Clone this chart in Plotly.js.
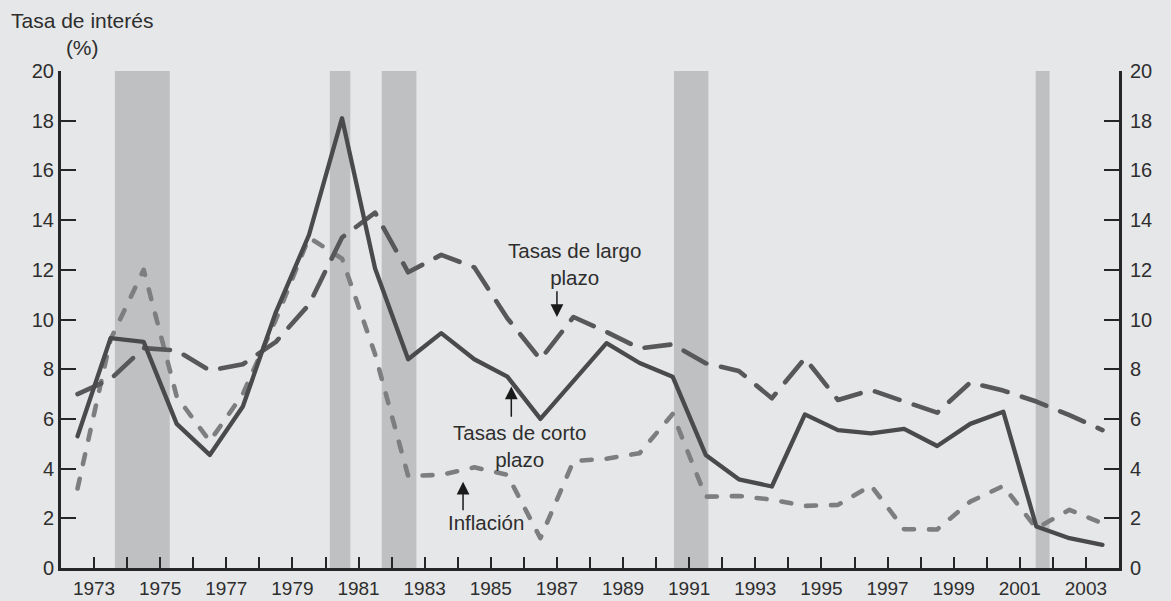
<!DOCTYPE html>
<html>
<head>
<meta charset="utf-8">
<script src="https://cdn.plot.ly/plotly-3.0.1.min.js"></script>
<style>
  html, body { margin: 0; padding: 0; background: #e6e7e8; }
  #chart { width: 1171px; height: 601px; }
  .scatterlayer path.js-line { stroke-linecap: round; stroke-linejoin: round; }
</style>
</head>
<body>
<div id="chart"></div>
<script>
// ---- Data ----
const years = [1972.5, 1973.5, 1974.5, 1975.5, 1976.5, 1977.5, 1978.5, 1979.5,
  1980.5, 1981.5, 1982.5, 1983.5, 1984.5, 1985.5, 1986.5, 1987.5,
  1988.5, 1989.5, 1990.5, 1991.5, 1992.5, 1993.5, 1994.5, 1995.5,
  1996.5, 1997.5, 1998.5, 1999.5, 2000.5, 2001.5, 2002.5, 2003.5];

const tasasCorto = [5.3, 9.25, 9.1, 5.8, 4.55, 6.5, 10.3, 13.4,
  18.1, 12.05, 8.4, 9.45, 8.4, 7.7, 6.0, 7.55,
  9.05, 8.25, 7.7, 4.55, 3.57, 3.28, 6.18, 5.55,
  5.42, 5.6, 4.91, 5.8, 6.29, 1.67, 1.2, 0.93];

const tasasLargo = [7.0, 7.6, 8.85, 8.75, 7.95, 8.2, 9.1, 10.6,
  13.3, 14.3, 11.9, 12.6, 12.1, 10.05, 8.4, 10.1,
  9.5, 8.84, 9.0, 8.24, 7.93, 6.83, 8.44, 6.76,
  7.16, 6.72, 6.25, 7.46, 7.14, 6.7, 6.15, 5.55];

const inflacion = [3.2, 9.2, 12.0, 6.9, 5.1, 7.0, 10.0, 13.3,
  12.45, 8.6, 3.7, 3.75, 4.05, 3.75, 1.2, 4.3,
  4.4, 4.62, 6.2, 2.87, 2.9, 2.75, 2.5, 2.54,
  3.32, 1.56, 1.55, 2.67, 3.3, 1.6, 2.34, 1.8];

// recession bands (start, end) in years
const recesionInicio = [1973.63, 1980.13, 1981.70, 1990.54, 2001.48];
const recesionFin    = [1975.29, 1980.75, 1982.75, 1991.58, 2001.90];

// axis ticks
const xTickYears = [1973, 1974, 1975, 1976, 1977, 1978, 1979, 1980, 1981, 1982,
  1983, 1984, 1985, 1986, 1987, 1988, 1989, 1990, 1991, 1992,
  1993, 1994, 1995, 1996, 1997, 1998, 1999, 2000, 2001, 2002, 2003];
const xTickLabels = ["1973", "", "1975", "", "1977", "", "1979", "", "1981", "",
  "1983", "", "1985", "", "1987", "", "1989", "", "1991", "",
  "1993", "", "1995", "", "1997", "", "1999", "", "2001", "", "2003"];
const yTicks = [0, 2, 4, 6, 8, 10, 12, 14, 16, 18, 20];

// ---- Styling ----
const FONT = '"Liberation Sans", Arial, Helvetica, sans-serif';
const TXT = '#2e2e2e';
const AX = '#262626';

const traces = [
  { x: years, y: inflacion, type: 'scatter', mode: 'lines', name: 'Inflación',
    line: { color: '#7d7e80', width: 4.6, dash: '10px,15px' }, hoverinfo: 'skip' },
  { x: years, y: tasasLargo, type: 'scatter', mode: 'lines', name: 'Tasas de largo plazo',
    line: { color: '#58585a', width: 4.6, dash: '26px,15px' }, hoverinfo: 'skip' },
  { x: years, y: tasasCorto, type: 'scatter', mode: 'lines', name: 'Tasas de corto plazo',
    line: { color: '#4a4a4c', width: 4.3 }, hoverinfo: 'skip' },
  { x: [years[0]], y: [0], yaxis: 'y2', type: 'scatter', mode: 'markers',
    marker: { opacity: 0 }, showlegend: false, hoverinfo: 'skip' }
];

const shapes = recesionInicio.map((s, i) => ({
  type: 'rect', xref: 'x', yref: 'y', x0: s, x1: recesionFin[i], y0: 0, y1: 20,
  fillcolor: '#bfc0c2', line: { width: 0 }, layer: 'below'
}));

const yCommon = {
  range: [0, 20], tickmode: 'array', tickvals: yTicks, ticktext: yTicks.map(String),
  ticks: 'inside', ticklen: 15, tickwidth: 2, tickcolor: AX,
  showline: true, linewidth: 3, linecolor: AX,
  showgrid: false, zeroline: false, fixedrange: true,
  tickfont: { family: FONT, size: 20, color: TXT }
};

const annFont = { family: FONT, size: 20.5, color: TXT };
const arrowStyle = { text: '', showarrow: true, arrowhead: 2, arrowsize: 1.7, arrowwidth: 1.5,
  arrowcolor: '#1a1a1a', standoff: 0, startstandoff: 0,
  xref: 'x', yref: 'y', axref: 'x', ayref: 'y' };
const annotations = [
  { xref: 'paper', yref: 'paper', x: 0.0198, y: 1.0745, xanchor: 'center', yanchor: 'middle',
    text: 'Tasa de interés<br>(%)', showarrow: false, font: { family: FONT, size: 21, color: TXT } },
  { x: 1987.52, y: 12.22, xref: 'x', yref: 'y', text: 'Tasas de largo<br>plazo',
    showarrow: false, font: annFont, xanchor: 'center', yanchor: 'middle' },
  { x: 1985.87, y: 4.91, xref: 'x', yref: 'y', text: 'Tasas de corto<br>plazo',
    showarrow: false, font: annFont, xanchor: 'center', yanchor: 'middle' },
  { x: 1984.84, y: 1.85, xref: 'x', yref: 'y', text: 'Inflación',
    showarrow: false, font: annFont, xanchor: 'center', yanchor: 'middle' },
  // arrows
  Object.assign({ x: 1987.0, y: 10.1, ax: 1987.0, ay: 11.2 }, arrowStyle),
  Object.assign({ x: 1985.62, y: 7.3, ax: 1985.62, ay: 6.03 }, arrowStyle),
  Object.assign({ x: 1984.16, y: 3.47, ax: 1984.16, ay: 2.26 }, arrowStyle)
];

const layout = {
  width: 1171, height: 601,
  margin: { l: 61, r: 52, t: 71, b: 33, pad: 0 },
  paper_bgcolor: '#e6e7e8', plot_bgcolor: '#e6e7e8',
  showlegend: false,
  font: { family: FONT, size: 20, color: TXT },
  xaxis: {
    range: [1972, 2004], tickmode: 'array', tickvals: xTickYears, ticktext: xTickLabels,
    ticks: 'inside', ticklen: 11, tickwidth: 2, tickcolor: AX,
    showline: true, linewidth: 3, linecolor: AX,
    showgrid: false, zeroline: false, fixedrange: true, ticklabelstandoff: 1,
    tickfont: { family: FONT, size: 19, color: TXT }, tickangle: 0
  },
  yaxis: Object.assign({}, yCommon, { side: 'left' }),
  yaxis2: Object.assign({}, yCommon, { side: 'right', overlaying: 'y', ticklabelstandoff: 4 }),
  shapes: shapes,
  annotations: annotations
};

Plotly.newPlot('chart', traces, layout, { staticPlot: true, displayModeBar: false });
</script>
</body>
</html>
